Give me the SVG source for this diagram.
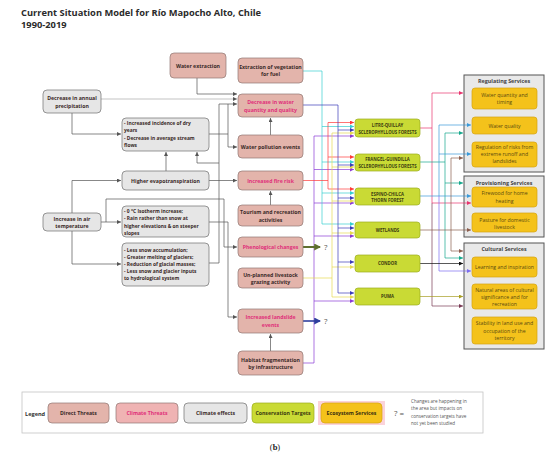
<svg xmlns="http://www.w3.org/2000/svg" width="550" height="456" viewBox="0 0 550 456">
<defs>
<style>
text{font-family:"Open Sans","Noto Sans","Liberation Sans",sans-serif}
.title{font-size:9.3px;font-weight:700;fill:#2b2b2b}
.dt rect,.ct rect{fill:#e3b4ab;stroke:#8f7772;stroke-width:0.7}
.ce rect{fill:#e6e6e6;stroke:#6e6e6e;stroke-width:0.7}
.tg rect{fill:#c9da35;stroke:#9bae1e;stroke-width:0.7}
.es rect{fill:#f4c21b;stroke:#d6a311;stroke-width:0.7}
.grp rect{fill:#e9e9e9;stroke:#555;stroke-width:1}
.dt text,.ct text,.ce text{font-size:5.2px;font-weight:700;fill:#3a2a28;text-anchor:middle}
.ct text{fill:#e0307a}
.ce text.l{text-anchor:start;font-size:4.9px}
.tg text{font-size:4.3px;font-weight:700;fill:#3a3a10;text-anchor:middle}
.es text{font-size:5.2px;fill:#5a4a10;text-anchor:middle}
.grp text{font-size:5.4px;font-weight:700;fill:#444;text-anchor:middle}
.q{font-size:8px;fill:#555}
.note{font-size:4.6px;fill:#555}
.c path{fill:none;stroke-width:0.7}
.g{stroke:#555}
</style>
<marker id="ag" viewBox="0 0 6 6" refX="6" refY="3" markerWidth="4" markerHeight="4" markerUnits="userSpaceOnUse" orient="auto"><path d="M0,0L6,3L0,6z" fill="#555"/></marker>
<marker id="acy" viewBox="0 0 6 6" refX="6" refY="3" markerWidth="4" markerHeight="4" markerUnits="userSpaceOnUse" orient="auto"><path d="M0,0L6,3L0,6z" fill="#36cfd0"/></marker>
<marker id="ard" viewBox="0 0 6 6" refX="6" refY="3" markerWidth="4" markerHeight="4" markerUnits="userSpaceOnUse" orient="auto"><path d="M0,0L6,3L0,6z" fill="#ff3a3a"/></marker>
<marker id="anv" viewBox="0 0 6 6" refX="6" refY="3" markerWidth="4" markerHeight="4" markerUnits="userSpaceOnUse" orient="auto"><path d="M0,0L6,3L0,6z" fill="#3b3bb8"/></marker>
<marker id="aye" viewBox="0 0 6 6" refX="6" refY="3" markerWidth="4" markerHeight="4" markerUnits="userSpaceOnUse" orient="auto"><path d="M0,0L6,3L0,6z" fill="#e6da50"/></marker>
<marker id="apu" viewBox="0 0 6 6" refX="6" refY="3" markerWidth="4" markerHeight="4" markerUnits="userSpaceOnUse" orient="auto"><path d="M0,0L6,3L0,6z" fill="#8b3bd6"/></marker>
<marker id="apk" viewBox="0 0 6 6" refX="6" refY="3" markerWidth="4" markerHeight="4" markerUnits="userSpaceOnUse" orient="auto"><path d="M0,0L6,3L0,6z" fill="#e8336e"/></marker>
<marker id="atl" viewBox="0 0 6 6" refX="6" refY="3" markerWidth="4" markerHeight="4" markerUnits="userSpaceOnUse" orient="auto"><path d="M0,0L6,3L0,6z" fill="#14a88c"/></marker>
<marker id="abl" viewBox="0 0 6 6" refX="6" refY="3" markerWidth="4" markerHeight="4" markerUnits="userSpaceOnUse" orient="auto"><path d="M0,0L6,3L0,6z" fill="#3a9ad9"/></marker>
<marker id="abr" viewBox="0 0 6 6" refX="6" refY="3" markerWidth="4" markerHeight="4" markerUnits="userSpaceOnUse" orient="auto"><path d="M0,0L6,3L0,6z" fill="#8b5e4e"/></marker>
<marker id="abk" viewBox="0 0 6 6" refX="6" refY="3" markerWidth="4" markerHeight="4" markerUnits="userSpaceOnUse" orient="auto"><path d="M0,0L6,3L0,6z" fill="#111"/></marker>
<marker id="aol" viewBox="0 0 6 6" refX="6" refY="3" markerWidth="4" markerHeight="4" markerUnits="userSpaceOnUse" orient="auto"><path d="M0,0L6,3L0,6z" fill="#a89e22"/></marker>
<marker id="amr" viewBox="0 0 6 6" refX="6" refY="3" markerWidth="4" markerHeight="4" markerUnits="userSpaceOnUse" orient="auto"><path d="M0,0L6,3L0,6z" fill="#7a3a55"/></marker>
<marker id="avi" viewBox="0 0 6 6" refX="6" refY="3" markerWidth="4" markerHeight="4" markerUnits="userSpaceOnUse" orient="auto"><path d="M0,0L6,3L0,6z" fill="#7b6cf0"/></marker>
<marker id="agn" viewBox="0 0 6 6" refX="5" refY="3" markerWidth="7" markerHeight="7" markerUnits="userSpaceOnUse" orient="auto"><path d="M0,0L6,3L0,6z" fill="#5f7030"/></marker>
<marker id="anb" viewBox="0 0 6 6" refX="5" refY="3" markerWidth="7" markerHeight="7" markerUnits="userSpaceOnUse" orient="auto"><path d="M0,0L6,3L0,6z" fill="#2e3e9e"/></marker>
</defs>
<rect width="550" height="456" fill="#fff"/>
<text class="title" x="21" y="16">Current Situation Model for Río Mapocho Alto, Chile</text>
<text class="title" x="21" y="28">1990-2019</text>

<!-- service groups (background) -->
<g id="regulating" class="grp"><rect x="464" y="75" width="80" height="97"/><text x="504" y="83">Regulating Services</text></g>
<g id="provisioning" class="grp"><rect x="464" y="176" width="80" height="61"/><text x="504" y="185">Provisioning Services</text></g>
<g id="cultural" class="grp"><rect x="464" y="243" width="80" height="106"/><text x="504" y="251">Cultural Services</text></g>

<g id="connectors" class="c">
<path class="g" d="M197,78V94H237" marker-end="url(#ag)"/>
<path style="stroke:#aaa" d="M101,99H237" marker-end="url(#ag)"/>
<path class="g" d="M72,113V134H121" marker-end="url(#ag)"/>
<path class="g" d="M209,134H228V104"/>
<path class="g" d="M219,263V104H237" marker-end="url(#ag)"/>
<path class="g" d="M228,134V147H237" marker-end="url(#ag)"/>
<path class="g" d="M219,163H197V152" marker-end="url(#ag)"/>
<path class="g" d="M209,263H219"/>
<path class="g" d="M166,171V152" marker-end="url(#ag)"/>
<path class="g" d="M209,180.5H237" marker-end="url(#ag)"/>
<path class="g" d="M72,213V180.5H121" marker-end="url(#ag)"/>
<path class="g" d="M101,222H121" marker-end="url(#ag)"/>
<path class="g" d="M72,231V264H121" marker-end="url(#ag)"/>
<path class="g" d="M106,222V199H224V247H237" marker-end="url(#ag)"/>
<path class="g" d="M209,222H228V317H237" marker-end="url(#ag)"/>
<path class="g" d="M270.5,135V118" marker-end="url(#ag)"/>
<path class="g" d="M270.5,205V191" marker-end="url(#ag)"/>
<path class="g" d="M270.5,351V334" marker-end="url(#ag)"/>

<!-- threats to targets -->
<path style="stroke:#8b3bd6" d="M303,363H314V136"/>
<path style="stroke:#8b3bd6" d="M314,136H354" marker-end="url(#apu)"/>
<path style="stroke:#8b3bd6" d="M314,169.5H354" marker-end="url(#apu)"/>
<path style="stroke:#8b3bd6" d="M314,203H354" marker-end="url(#apu)"/>
<path style="stroke:#8b3bd6" d="M314,236H354" marker-end="url(#apu)"/>
<path style="stroke:#8b3bd6" d="M314,301H354" marker-end="url(#apu)"/>

<path style="stroke:#36cfd0" d="M303,71H322V224"/>
<path style="stroke:#36cfd0" d="M322,126.5H354" marker-end="url(#acy)"/>
<path style="stroke:#36cfd0" d="M322,162H354" marker-end="url(#acy)"/>
<path style="stroke:#36cfd0" d="M322,193H354" marker-end="url(#acy)"/>
<path style="stroke:#36cfd0" d="M322,224H354" marker-end="url(#acy)"/>

<path style="stroke:#ff3a3a" d="M303,180.5H328"/>
<path style="stroke:#ff3a3a" d="M328,122.5V189"/>
<path style="stroke:#ff3a3a" d="M328,122.5H354" marker-end="url(#ard)"/>
<path style="stroke:#ff3a3a" d="M328,157H354" marker-end="url(#ard)"/>
<path style="stroke:#ff3a3a" d="M328,189H354" marker-end="url(#ard)"/>

<path style="stroke:#e6da50" d="M303,278H332"/>
<path style="stroke:#e6da50" d="M332,133V297"/>
<path style="stroke:#e6da50" d="M332,133H354" marker-end="url(#aye)"/>
<path style="stroke:#e6da50" d="M332,167H354" marker-end="url(#aye)"/>
<path style="stroke:#e6da50" d="M332,201H354" marker-end="url(#aye)"/>
<path style="stroke:#e6da50" d="M332,233H354" marker-end="url(#aye)"/>
<path style="stroke:#e6da50" d="M332,267H354" marker-end="url(#aye)"/>
<path style="stroke:#e6da50" d="M332,297H354" marker-end="url(#aye)"/>

<path style="stroke:#3b3bb8" d="M303,105H338V293"/>
<path style="stroke:#3b3bb8" d="M338,130H354" marker-end="url(#anv)"/>
<path style="stroke:#3b3bb8" d="M338,165H354" marker-end="url(#anv)"/>
<path style="stroke:#3b3bb8" d="M338,198H354" marker-end="url(#anv)"/>
<path style="stroke:#3b3bb8" d="M338,228H354" marker-end="url(#anv)"/>
<path style="stroke:#3b3bb8" d="M338,262H354" marker-end="url(#anv)"/>
<path style="stroke:#3b3bb8" d="M338,293H354" marker-end="url(#anv)"/>

<path style="stroke:#5f7030;stroke-width:2" d="M303,247H320" marker-end="url(#agn)"/>
<path style="stroke:#2e3e9e;stroke-width:1.6" d="M303,321H320" marker-end="url(#anb)"/>

<!-- targets to services -->
<path style="stroke:#e8336e" d="M420,128H432"/>
<path style="stroke:#e8336e" d="M432,93V203"/>
<path style="stroke:#e8336e" d="M432,93H463" marker-end="url(#apk)"/>
<path style="stroke:#e8336e" d="M432,203H471" marker-end="url(#apk)"/>
<path style="stroke:#7a3a55" d="M432,203V306H463" marker-end="url(#amr)"/>

<path style="stroke:#14a88c" d="M420,162H445"/>
<path style="stroke:#14a88c" d="M445,133V258"/>
<path style="stroke:#14a88c" d="M445,133H463" marker-end="url(#atl)"/>
<path style="stroke:#14a88c" d="M445,183H463" marker-end="url(#atl)"/>
<path style="stroke:#14a88c" d="M445,258H463" marker-end="url(#atl)"/>

<path style="stroke:#3a9ad9" d="M420,196H471" marker-end="url(#abl)"/>
<path style="stroke:#3a9ad9" d="M439,125V196"/>
<path style="stroke:#3a9ad9" d="M439,125H471" marker-end="url(#abl)"/>
<path style="stroke:#3a9ad9" d="M439,154H471" marker-end="url(#abl)"/>
<path style="stroke:#7b6cf0" d="M439,196V271H471" marker-end="url(#avi)"/>

<path style="stroke:#8b5e4e" d="M420,230H471" marker-end="url(#abr)"/>
<path style="stroke:#8b5e4e" d="M451,158V251"/>
<path style="stroke:#8b5e4e" d="M451,158H463" marker-end="url(#abr)"/>
<path style="stroke:#8b5e4e" d="M451,251H463" marker-end="url(#abr)"/>

<path style="stroke:#111" d="M420,263.5H463" marker-end="url(#abk)"/>
<path style="stroke:#a89e22" d="M420,296.5H463" marker-end="url(#aol)"/>
</g>
<text class="q" x="324" y="250">?</text>
<text class="q" x="324" y="324">?</text>

<!-- direct / climate threats -->
<g id="water-extraction" class="dt"><rect x="170" y="53" width="56" height="25" rx="4"/><text x="198" y="67.5">Water extraction</text></g>
<g id="veg-extraction" class="dt"><rect x="238" y="58" width="65" height="25" rx="4"/><text x="270.5" y="68.5">Extraction of vegetation</text><text x="270.5" y="76">for fuel</text></g>
<g id="water-decrease" class="ct"><rect x="238" y="94" width="65" height="23" rx="4"/><text x="270.5" y="104">Decrease in water</text><text x="270.5" y="111.5">quantity and quality</text></g>
<g id="water-pollution" class="dt"><rect x="238" y="135" width="65" height="23" rx="4"/><text x="270.5" y="148.5">Water pollution events</text></g>
<g id="fire-risk" class="ct"><rect x="238" y="171" width="65" height="19" rx="4"/><text x="270.5" y="182.5">Increased fire risk</text></g>
<g id="tourism" class="dt"><rect x="238" y="205" width="65" height="21" rx="4"/><text x="270.5" y="214">Tourism and recreation</text><text x="270.5" y="221.5">activities</text></g>
<g id="phenological" class="ct"><rect x="238" y="237" width="65" height="20" rx="4"/><text x="270.5" y="249">Phenological changes</text></g>
<g id="livestock" class="dt"><rect x="238" y="268" width="65" height="20" rx="4"/><text x="270.5" y="276.5">Un-planned livestock</text><text x="270.5" y="284">grazing activity</text></g>
<g id="landslide" class="ct"><rect x="238" y="309" width="65" height="24" rx="4"/><text x="270.5" y="319">Increased landslide</text><text x="270.5" y="326.5">events</text></g>
<g id="habitat" class="dt"><rect x="238" y="351" width="65" height="24" rx="4"/><text x="270.5" y="361.5">Habitat fragmentation</text><text x="270.5" y="369">by infrastructure</text></g>

<!-- climate effects -->
<g id="precipitation" class="ce"><rect x="43" y="90" width="58" height="23" rx="4"/><text x="72" y="100">Decrease in annual</text><text x="72" y="107.5">precipitation</text></g>
<g id="dry-years" class="ce"><rect x="122" y="118" width="87" height="33" rx="4"/><text class="l" x="124" y="125">- Increased incidence of dry</text><text class="l" x="124" y="132">years</text><text class="l" x="124" y="139.5">- Decrease in average stream</text><text class="l" x="124" y="146.5">flows</text></g>
<g id="evapotranspiration" class="ce"><rect x="122" y="171" width="87" height="19" rx="4"/><text x="165.5" y="182.5">Higher evapotranspiration</text></g>
<g id="air-temperature" class="ce"><rect x="43" y="213" width="58" height="18" rx="4"/><text x="72" y="221">Increase in air</text><text x="72" y="228">temperature</text></g>
<g id="isotherm" class="ce"><rect x="122" y="206" width="87" height="31" rx="4"/><text class="l" x="124" y="213">- 0 °C Isotherm increase;</text><text class="l" x="124" y="220.3">- Rain rather than snow at</text><text class="l" x="124" y="227.6">higher elevations &amp; on steeper</text><text class="l" x="124" y="234.9">slopes</text></g>
<g id="snow" class="ce"><rect x="122" y="243" width="87" height="43" rx="4"/><text class="l" x="124" y="251.5">- Less snow accumulation;</text><text class="l" x="124" y="258.6">- Greater melting of glaciers;</text><text class="l" x="124" y="265.7">- Reduction of glacial masses;</text><text class="l" x="124" y="272.8">- Less snow and glacier inputs</text><text class="l" x="124" y="279.9">to hydrological system</text></g>

<!-- conservation targets -->
<g id="litre-quillay" class="tg"><rect x="355" y="119" width="65" height="18" rx="3"/><text x="387.5" y="126.5">LITRE-QUILLAY</text><text x="387.5" y="133.5">SCLEROPHYLLOUS FORESTS</text></g>
<g id="frangel-guindilla" class="tg"><rect x="355" y="154" width="65" height="17" rx="3"/><text x="387.5" y="160.5">FRANGEL-GUINDILLA</text><text x="387.5" y="167.5">SCLEROPHYLLOUS FORESTS</text></g>
<g id="espino-chilca" class="tg"><rect x="355" y="188" width="65" height="17" rx="3"/><text x="387.5" y="195.5">ESPINO-CHILCA</text><text x="387.5" y="201.5">THORN FOREST</text></g>
<g id="wetlands" class="tg"><rect x="355" y="222" width="65" height="16" rx="3"/><text x="387.5" y="231.5">WETLANDS</text></g>
<g id="condor" class="tg"><rect x="355" y="255" width="65" height="17" rx="3"/><text x="387.5" y="265">CONDOR</text></g>
<g id="puma" class="tg"><rect x="355" y="288" width="65" height="17" rx="3"/><text x="387.5" y="298">PUMA</text></g>

<!-- ecosystem services -->
<g id="water-quantity" class="es"><rect x="472" y="88" width="65" height="21" rx="3"/><text x="504.5" y="97">Water quantity and</text><text x="504.5" y="104">timing</text></g>
<g id="water-quality" class="es"><rect x="472" y="117" width="65" height="17" rx="3"/><text x="504.5" y="127.5">Water quality</text></g>
<g id="risk-regulation" class="es"><rect x="472" y="142" width="65" height="25" rx="3"/><text x="504.5" y="149">Regulation of risks from</text><text x="504.5" y="156">extreme runoff and</text><text x="504.5" y="163">landslides</text></g>
<g id="firewood" class="es"><rect x="472" y="187" width="65" height="20" rx="3"/><text x="504.5" y="195">Firewood for home</text><text x="504.5" y="202.5">heating</text></g>
<g id="pasture" class="es"><rect x="472" y="213" width="65" height="19" rx="3"/><text x="504.5" y="221.5">Pasture for domestic</text><text x="504.5" y="228.5">livestock</text></g>
<g id="learning" class="es"><rect x="472" y="257" width="65" height="20" rx="3"/><text x="504.5" y="269">Learning and inspiration</text></g>
<g id="natural-areas" class="es"><rect x="472" y="284" width="65" height="25" rx="3"/><text x="504.5" y="292">Natural areas of cultural</text><text x="504.5" y="299">significance and for</text><text x="504.5" y="306">recreation</text></g>
<g id="stability" class="es"><rect x="472" y="317" width="65" height="27" rx="3"/><text x="504.5" y="325">Stability in land use and</text><text x="504.5" y="332.5">occupation of the</text><text x="504.5" y="340">territory</text></g>

<!-- legend -->
<g id="legend">
<rect x="22" y="392" width="461" height="41" fill="#fff" stroke="#c4c4c4" stroke-width="0.8"/>
<text x="25" y="415.5" style="font-size:5.6px;font-weight:700;fill:#333">Legend</text>
<g class="dt"><rect x="48" y="403" width="61" height="20" rx="4"/><text x="78.5" y="415">Direct Threats</text></g>
<g class="ct"><rect x="116" y="403" width="62" height="20" rx="4" style="fill:#efb3b3"/><text x="147" y="415">Climate Threats</text></g>
<g class="ce"><rect x="184" y="403" width="63" height="20" rx="4"/><text x="215.5" y="415">Climate effects</text></g>
<g class="tg"><rect x="252" y="403" width="62" height="20" rx="4"/><text x="283" y="415" style="font-size:5.2px">Conservation Targets</text></g>
<rect x="318" y="401" width="67" height="24" fill="#fbd3da"/>
<g class="es"><rect x="321" y="403" width="61" height="20" rx="4"/><text x="351.5" y="415" style="font-weight:700;fill:#3a3010">Ecosystem Services</text></g>
<text class="q" x="394" y="416">? =</text>
<text class="note" x="411" y="403">Changes are happening in</text>
<text class="note" x="411" y="410">the area but impacts on</text>
<text class="note" x="411" y="417.5">conservation targets have</text>
<text class="note" x="411" y="425">not yet been studied</text>
</g>
<text x="275" y="450" style="font-family:'Liberation Serif',serif;font-size:8.5px;fill:#222;text-anchor:middle">(<tspan font-weight="700">b</tspan>)</text>
</svg>
